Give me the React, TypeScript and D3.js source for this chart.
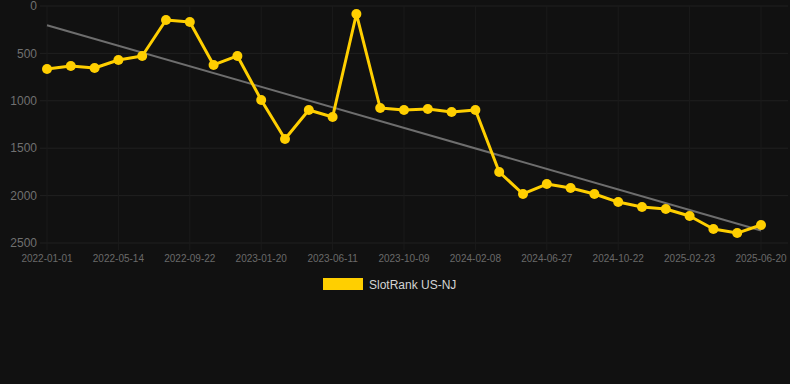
import React from "react";
import * as d3 from "d3";

const tickLabels = [
  "2022-01-01", "2022-05-14", "2022-09-22", "2023-01-20", "2023-06-11", "2023-10-09",
  "2024-02-08", "2024-06-27", "2024-10-22", "2025-02-23", "2025-06-20",
];
const tickIndexes = [0, 3, 6, 9, 12, 15, 18, 21, 24, 27, 30];
const rankValues = [
  665, 633, 654, 570, 527, 148, 169, 622, 527, 992,
  1403, 1097, 1171, 84, 1076, 1097, 1086, 1118, 1097, 1751,
  1983, 1878, 1920, 1983, 2068, 2120, 2141, 2215, 2352, 2395, 2310,
];
const yTicks = [0, 500, 1000, 1500, 2000, 2500];
const seriesName = "SlotRank US-NJ";

const W = 790, H = 384;
const left = 47, right = 761, top = 6, bottom = 243;

export default function App() {
  const x = d3.scaleLinear().domain([0, rankValues.length - 1]).range([left, right]);
  const y = d3.scaleLinear().domain([0, 2500]).range([top, bottom]);
  const pts = rankValues.map((v, i) => [i, v] as [number, number]);
  const line = d3.line<[number, number]>().x(d => x(d[0])).y(d => y(d[1]));

  const n = pts.length;
  const mx = d3.mean(pts, d => d[0])!;
  const my = d3.mean(pts, d => d[1])!;
  const slope = d3.sum(pts, d => (d[0] - mx) * (d[1] - my)) / d3.sum(pts, d => (d[0] - mx) ** 2);
  const icpt = my - slope * mx;
  const trend: [number, number][] = [[0, icpt], [n - 1, icpt + slope * (n - 1)]];

  const font = "'Liberation Sans', Arial, Helvetica, sans-serif";
  const gridColor = "#202020";
  const vGridColor = "#1b1b1b";
  const gold = "#FFCF00";

  return (
    <svg width={W} height={H} style={{ position: "absolute", left: 0, top: 0, background: "#111111" }}>
      <rect x={0} y={0} width={W} height={H} fill="#111111" />
      {yTicks.map(t => (
        <g key={t}>
          <line x1={40} x2={788} y1={y(t)} y2={y(t)} stroke={gridColor} strokeWidth={1} />
          <text x={37} y={y(t)} dy="0.35em" textAnchor="end" fill="#707070" fontSize={12} fontFamily={font}>{t}</text>
        </g>
      ))}
      {tickIndexes.map((ti, k) => (
        <g key={ti}>
          <line x1={x(ti)} x2={x(ti)} y1={top} y2={bottom + 7} stroke={vGridColor} strokeWidth={1} />
          <text x={x(ti)} y={262} textAnchor="middle" fill="#6a6a6a" fontSize={10} fontFamily={font}>{tickLabels[k]}</text>
        </g>
      ))}
      <path d={line(trend)!} fill="none" stroke="#6e6e6e" strokeWidth={2} />
      <path d={line(pts)!} fill="none" stroke={gold} strokeWidth={3} strokeLinejoin="round" />
      {pts.map(d => (
        <circle key={d[0]} cx={x(d[0])} cy={y(d[1])} r={5} fill={gold} />
      ))}
      <rect x={323} y={278} width={40} height={12} fill={gold} />
      <text x={369} y={288.5} fill="#d4d4d4" fontSize={12} fontFamily={font}>{seriesName}</text>
    </svg>
  );
}
